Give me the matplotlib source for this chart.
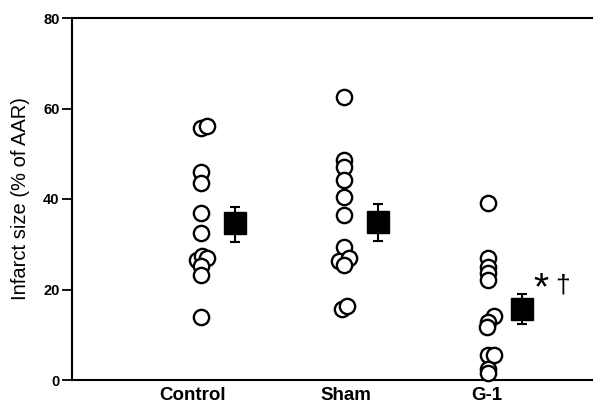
import numpy as np
import matplotlib
matplotlib.use("Agg")
import matplotlib.pyplot as plt

# ======================
# DATA
# ======================
groups = ["Control", "Sham", "G-1"]

control = [55.7, 56.2, 46.0, 43.6, 37.0, 32.4, 26.6, 27.3, 26.9, 25.1, 23.2, 14.0]
sham = [62.6, 48.6, 47.1, 44.2, 40.5, 36.5, 29.5, 26.4, 26.9, 25.4, 15.8, 16.4]
g1 = [39.2, 26.9, 25.0, 23.6, 22.1, 14.1, 12.9, 11.8, 5.5, 5.5, 2.4, 1.6]

means = [34.8, 35.0, 15.8]
sem_up = [3.5, 4.0, 3.2]
sem_down = [4.2, 4.2, 3.4]

# horizontal scatter of overlapping circles (axis units)
jitter = [
    [0.0, 0.04, 0.0, 0.0, 0.0, 0.0, -0.03, 0.005, 0.04, 0.0, 0.0, 0.0],
    [0.0, 0.0, 0.0, 0.0, 0.0, 0.0, 0.0, -0.04, 0.03, 0.0, -0.02, 0.02],
    [0.0, 0.0, 0.0, 0.0, 0.0, 0.04, 0.0, -0.01, 0.0, 0.04, 0.0, 0.0],
]

plt.rcParams['font.family'] = ['Liberation Sans', 'DejaVu Sans']

fig = plt.figure(figsize=(5.93, 4.05), dpi=100)
ax = fig.add_axes([72 / 593, 1 - 380 / 405, 1 - 72 / 593, 362 / 405])

for i, vals in enumerate([control, sham, g1]):
    x = i + 1 + np.array(jitter[i])
    ax.plot(x, vals, 'o', ms=11, mfc='white', mec='black', mew=1.7,
            linestyle='none', clip_on=False, zorder=3)

mx = np.arange(1, 4) + 0.235
ax.errorbar(mx, means, yerr=[sem_down, sem_up], fmt='s', ms=16.5,
            color='black', ecolor='black', elinewidth=1.5, capsize=3.5,
            capthick=1.5, zorder=4)

# significance marks next to G-1 mean
ax.text(3.315, 24.0, "*", fontsize=28, va='top', ha='left')
ax.text(3.47, 23.5, "\u2020", fontsize=19, va='top', ha='left')

ax.set_xlim(0.101, 3.732)
ax.set_ylim(0, 80)
ax.set_yticks([0, 20, 40, 60, 80])
ax.set_xticks([0.94, 2.01, 2.99])
ax.set_xticklabels(groups, fontsize=13.5, fontweight='bold')
ax.tick_params(axis='x', length=0, pad=5)
ax.tick_params(axis='y', length=7, width=1.3, pad=2, labelsize=10.5)
for lab in ax.get_yticklabels():
    lab.set_fontweight('bold')

ax.set_ylabel("Infarct size (% of AAR)", fontsize=14.5, labelpad=9)

ax.spines['right'].set_visible(False)
for s in ['left', 'top', 'bottom']:
    ax.spines[s].set_linewidth(1.5)

plt.savefig('out.png', dpi=100)
